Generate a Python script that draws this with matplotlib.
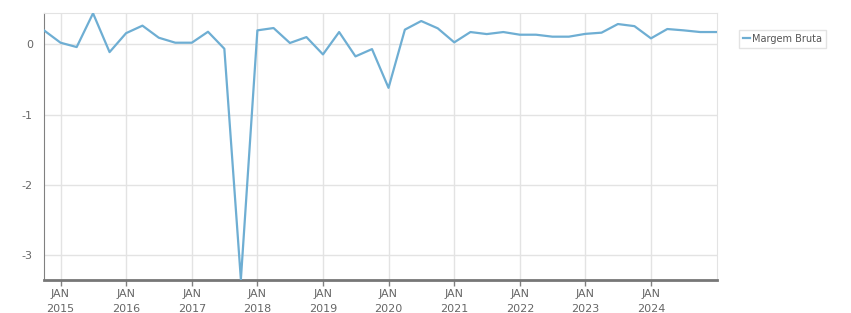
import matplotlib.pyplot as plt
import matplotlib.dates as mdates
import pandas as pd

# quarterly series, first point Oct 2014
dates = pd.date_range("2014-10-01", periods=42, freq="QS")
margem_bruta = [
    0.20, 0.024, -0.038, 0.443, -0.11, 0.16, 0.267, 0.095, 0.024, 0.024,
    0.18, -0.062, -3.35, 0.20, 0.233, 0.02, 0.104, -0.143, 0.176, -0.171,
    -0.067, -0.619, 0.21, 0.333, 0.229, 0.029, 0.176, 0.147, 0.176, 0.138,
    0.138, 0.11, 0.11, 0.15, 0.167, 0.29, 0.26, 0.086, 0.219, 0.20,
    0.176, 0.176,
]
tick_years = list(range(2015, 2025))
y_ticks = [0, -1, -2, -3]

LINE_COLOR = "#6eaed3"
GRID_COLOR = "#e3e3e3"
TEXT_COLOR = "#666666"

W, H = 851, 313
fig = plt.figure(figsize=(W / 100, H / 100), dpi=100)
ax = fig.add_axes([44 / W, (H - 279.5) / H, (716.7 - 44) / W, (279.5 - 13.3) / H])

ax.plot(dates, margem_bruta, color=LINE_COLOR, lw=1.6, label="Margem Bruta", zorder=3)

ax.set_xlim(dates[0], dates[-1])
ax.set_ylim(min(margem_bruta), max(margem_bruta))

# x ticks at january of each year
xt = [pd.Timestamp(f"{y}-01-01") for y in tick_years]
ax.set_xticks(xt)
ax.set_xticklabels([f"JAN\n{y}" for y in tick_years])
ax.set_yticks(y_ticks)
ax.set_yticklabels([str(v) for v in y_ticks])

ax.grid(True, color=GRID_COLOR, lw=1, zorder=0)
ax.tick_params(axis="x", colors="#808080", length=4, width=1, labelcolor=TEXT_COLOR,
               labelsize=8, pad=3)
ax.tick_params(axis="y", length=0, labelcolor=TEXT_COLOR, labelsize=8, pad=8)
for lab in ax.get_xticklabels():
    lab.set_linespacing(1.6)

ax.spines["top"].set_color(GRID_COLOR)
ax.spines["right"].set_color(GRID_COLOR)
ax.spines["left"].set_color("#808080")
ax.spines["bottom"].set_color("#777777")
ax.spines["bottom"].set_linewidth(2)

leg = ax.legend(loc="upper left", bbox_to_anchor=(739 / W, (H - 30) / H),
                bbox_transform=fig.transFigure, frameon=True, fancybox=False,
                fontsize=7, handlelength=0.7, handletextpad=0.2,
                borderpad=0.4, borderaxespad=0)
leg.get_frame().set_edgecolor("#dddddd")
leg.get_frame().set_linewidth(1)
for t in leg.get_texts():
    t.set_color("#555555")

fig.savefig("out.png", dpi=100)
